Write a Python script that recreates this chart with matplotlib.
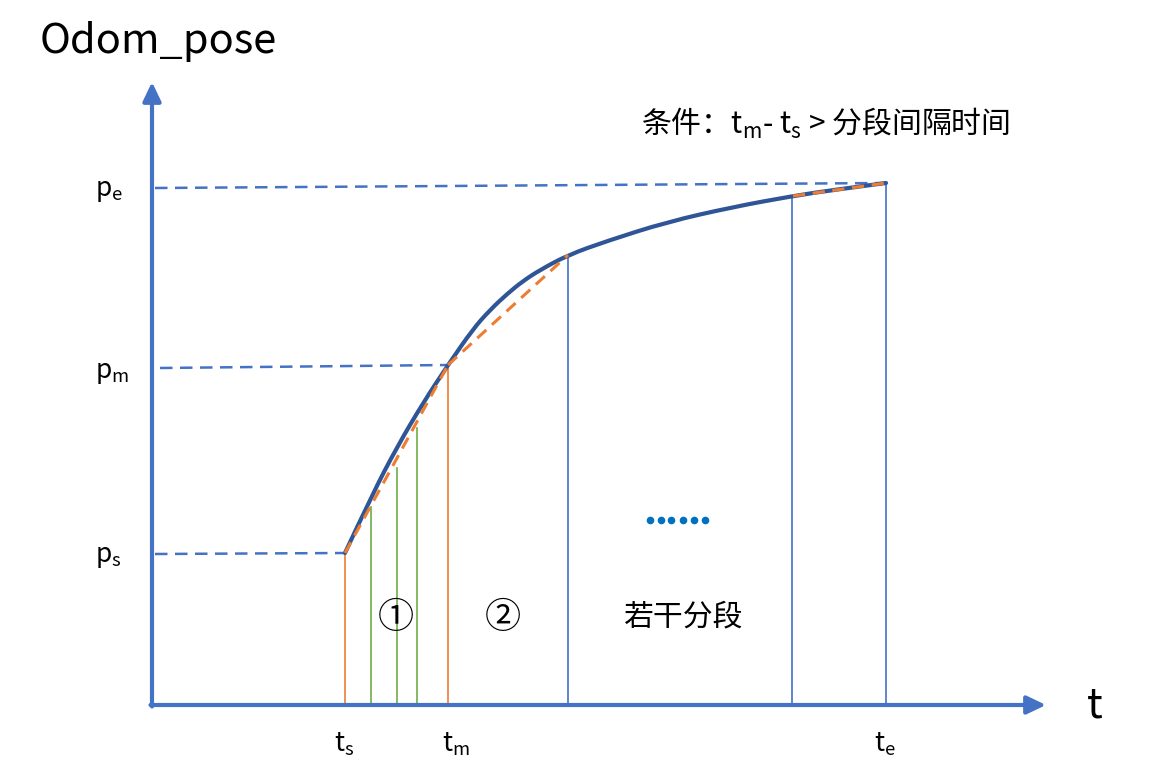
import numpy as np
import matplotlib.pyplot as plt
from matplotlib.path import Path
from matplotlib.patches import PathPatch

plt.rcParams['font.family'] = ['Noto Sans CJK SC', 'DejaVu Sans']
plt.rcParams['mathtext.fontset'] = 'custom'
plt.rcParams['mathtext.rm'] = 'Noto Sans CJK SC'
plt.rcParams['mathtext.it'] = 'Noto Sans CJK SC'
plt.rcParams['mathtext.default'] = 'regular'

# pose curve (t, pose) in image units
curve_t = [345, 372, 397, 423, 448, 473, 490, 507, 523, 540, 568,
           607, 667, 733, 793, 833, 886]
curve_p = [553, 495, 447, 403, 365, 329, 310, 294, 281, 270, 255,
           241, 222, 207, 196, 190, 183]

# piecewise linear chords (orange dashed)
chords = [([345, 448], [553, 365]), ([448, 568], [365, 255]), ([793, 886], [196, 183])]

# vertical segment lines: t, top pose, colour
seg_t = [345, 371, 397, 417, 448, 568, 792, 886]
seg_top = [553, 507, 468, 428, 365, 255, 196, 183]
seg_col = ['#ED7D31', '#70AD47', '#70AD47', '#70AD47', '#ED7D31', '#4472C4', '#4472C4', '#4472C4']

# dashed guides from the pose axis
guides = [([155, 345], [554, 553]), ([160, 448], [368, 365]), ([155, 886], [188, 183])]

blue = '#4472C4'
dark = '#2F5597'

fig = plt.figure(figsize=(11.51, 7.6), dpi=100)
ax = fig.add_axes([0, 0, 1, 1])
ax.set_xlim(0, 1151)
ax.set_ylim(760, 0)
ax.axis('off')

# axes with arrows
axis_y = 705
axis_x = 152
ax.annotate('', xy=(axis_x, 82), xytext=(axis_x, axis_y + 1.5),
            arrowprops=dict(arrowstyle='-|>,head_length=1.15,head_width=0.55',
                            color=blue, lw=3, shrinkA=0, shrinkB=0))
ax.annotate('', xy=(1046, axis_y), xytext=(axis_x - 1.5, axis_y),
            arrowprops=dict(arrowstyle='-|>,head_length=1.15,head_width=0.55',
                            color=blue, lw=3, shrinkA=0, shrinkB=0))

for (gx, gy) in guides:
    ax.plot(gx, gy, color=blue, lw=1.8, dashes=(5, 3))

for t, top, c in zip(seg_t, seg_top, seg_col):
    ax.plot([t, t], [axis_y, top], color=c, lw=1.2)

# smooth curve: read points used as quadratic bezier controls
pts = np.column_stack([curve_t, curve_p]).astype(float)
verts = [pts[0]]
codes = [Path.MOVETO]
n = len(pts)
for i in range(1, n - 1):
    end = pts[-1] if i == n - 2 else (pts[i] + pts[i + 1]) / 2
    verts += [pts[i], end]
    codes += [Path.CURVE3, Path.CURVE3]
ax.add_patch(PathPatch(Path(verts, codes), fill=False, edgecolor=dark, lw=3,
                       capstyle='round', joinstyle='round', zorder=3))

for (cx, cy) in chords:
    ax.plot(cx, cy, color='#ED7D31', lw=2.2, dashes=(4, 2.5), zorder=4)

# text
ax.text(40, 42, 'Odom_pose', fontsize=30, va='center', ha='left')
ax.text(1095, 706, 't', fontsize=30, va='center', ha='center')
for lab, y in [('p$_e$', 190), ('p$_m$', 372), ('p$_s$', 556)]:
    ax.text(95, y, lab, fontsize=19, va='center', ha='left')
for lab, x in [('t$_s$', 344), ('t$_m$', 456), ('t$_e$', 885)]:
    ax.text(x, 744, lab, fontsize=19, va='center', ha='center')

ax.text(641, 123, '条件：t$_m$- t$_s$ > 分段间隔时间', fontsize=21.5, va='center', ha='left')
ax.text(396, 618, '①', fontsize=26, va='center', ha='center')
ax.text(503, 618, '②', fontsize=26, va='center', ha='center')
ax.text(683, 617, '若干分段', fontsize=21.5, va='center', ha='center')

ellipsis_x = [650, 661, 671, 683, 694, 705]
ax.scatter(ellipsis_x, [520] * len(ellipsis_x), s=20, color='#0070C0', zorder=5)

fig.savefig('out.png', dpi=100)
